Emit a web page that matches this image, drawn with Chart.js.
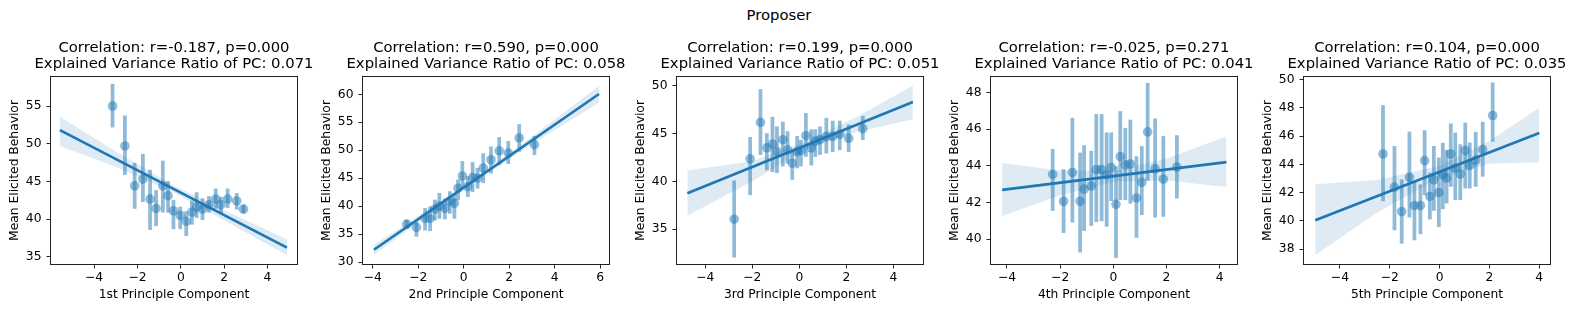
<!DOCTYPE html>
<html>
<head>
<meta charset="utf-8">
<script src="https://cdn.jsdelivr.net/npm/chart.js@4.4.1/dist/chart.umd.min.js"></script>
<style>
  body { margin: 0; background: #fff; width: 1577px; height: 311px; position: relative; overflow: hidden; font-family: "DejaVu Sans", sans-serif; }
  #suptitle { position: absolute; left: 0; width: 1558px; top: 7px; line-height: 16px; text-align: center; font-size: 14.8px; color: #000; }
  canvas { position: absolute; top: 0; }
</style>
</head>
<body>
<div id="suptitle">Proposer</div>
<canvas id="c0" width="346" height="311"></canvas>
<canvas id="c1" width="346" height="311"></canvas>
<canvas id="c2" width="346" height="311"></canvas>
<canvas id="c3" width="346" height="311"></canvas>
<canvas id="c4" width="346" height="311"></canvas>
<script>
// binned means with their CI, regression fit and its CI band

// 1st PC
const pc1X  = [-3.15, -2.58, -2.13, -1.75, -1.42, -1.14, -0.83, -0.59, -0.34, -0.03, 0.25, 0.51, 0.73, 1.00, 1.30, 1.61, 1.85, 2.16, 2.58, 2.89];
const pc1Y  = [55.0, 49.7, 44.4, 45.3, 42.65, 41.4, 44.4, 43.1, 41.1, 40.5, 39.7, 40.9, 41.6, 41.3, 41.9, 42.65, 41.9, 42.65, 42.4, 41.3];
const pc1Lo = [52.2, 45.9, 41.4, 42.3, 38.6, 39.1, 40.9, 40.9, 38.7, 38.7, 37.8, 39.3, 40.2, 39.9, 40.9, 41.4, 40.8, 41.5, 41.3, 40.8];
const pc1Hi = [57.9, 53.7, 47.4, 48.6, 46.5, 43.8, 47.7, 45.0, 42.5, 41.6, 41.0, 42.4, 43.5, 42.7, 43.0, 44.0, 42.9, 44.0, 43.4, 41.9];
const pc1FitX = [-5.58, 4.90];
const pc1FitY = [51.8, 36.2];
const pc1BandX  = [-5.58, -3, -0.3, 2.5, 4.9];
const pc1BandLo = [49.7, 46.95, 43.5, 39.0, 35.2];
const pc1BandHi = [53.6, 48.95, 44.4, 40.5, 37.3];

// 2nd PC
const pc2X  = [-2.51, -2.08, -1.70, -1.48, -1.27, -1.07, -0.83, -0.61, -0.41, -0.25, -0.06, 0.18, 0.39, 0.61, 0.86, 1.20, 1.56, 1.96, 2.44, 3.11];
const pc2Y  = [36.8, 36.2, 37.8, 37.8, 39.45, 40.0, 39.6, 40.9, 40.5, 43.2, 45.4, 43.5, 45.1, 45.0, 46.8, 48.3, 49.9, 49.5, 52.2, 51.0];
const pc2Lo = [36.0, 34.6, 35.7, 35.6, 37.5, 37.8, 37.7, 38.7, 37.8, 41.1, 43.1, 41.7, 42.6, 43.2, 44.2, 45.9, 47.4, 47.6, 49.8, 49.2];
const pc2Hi = [37.5, 37.2, 39.6, 39.9, 41.1, 42.3, 41.3, 42.6, 42.3, 44.7, 48.0, 45.3, 47.8, 46.8, 49.4, 50.6, 52.3, 51.6, 54.6, 52.5];
const pc2FitX = [-3.95, 5.95];
const pc2FitY = [32.2, 60.06];
const pc2BandX  = [-3.95, -1.5, 0.1, 3, 5.95];
const pc2BandLo = [31.3, 38.6, 43.3, 51.1, 58.5];
const pc2BandHi = [33.1, 39.6, 43.9, 52.4, 61.5];

// 3rd PC
const pc3X  = [-2.77, -2.09, -1.65, -1.38, -1.14, -0.95, -0.70, -0.50, -0.30, -0.09, 0.07, 0.28, 0.51, 0.68, 0.88, 1.15, 1.42, 1.72, 2.10, 2.70];
const pc3Y  = [36.05, 42.36, 46.16, 43.5, 43.9, 43.1, 44.35, 43.3, 41.9, 43.1, 43.2, 44.77, 43.5, 44.2, 44.35, 44.7, 44.7, 44.9, 44.5, 45.5];
const pc3Lo = [32.07, 38.6, 42.8, 41.2, 41.0, 40.9, 41.6, 41.9, 40.2, 41.4, 41.6, 42.6, 41.7, 42.6, 42.8, 42.95, 43.1, 43.3, 43.1, 44.35];
const pc3Hi = [40.06, 44.6, 49.6, 45.0, 46.7, 45.7, 46.2, 45.2, 43.1, 44.7, 44.3, 47.1, 45.4, 45.4, 45.7, 46.6, 46.3, 46.3, 45.9, 46.8];
const pc3FitX = [-4.76, 4.83];
const pc3FitY = [38.77, 48.29];
const pc3BandX  = [-4.76, -2, 0.3, 2.5, 4.83];
const pc3BandLo = [36.4, 40.0, 43.4, 45.2, 46.5];
const pc3BandHi = [41.14, 42.1, 44.2, 46.8, 50.0];

// 4th PC
const pc4X  = [-2.28, -1.87, -1.54, -1.25, -1.10, -0.83, -0.64, -0.44, -0.25, -0.08, 0.10, 0.26, 0.45, 0.64, 0.87, 1.07, 1.29, 1.57, 1.88, 2.39];
const pc4Y  = [43.53, 42.07, 43.64, 42.07, 42.73, 42.9, 43.8, 43.8, 43.5, 43.9, 41.9, 44.5, 44.05, 44.1, 42.25, 43.1, 45.85, 43.84, 43.27, 43.93];
const pc4Lo = [41.56, 40.36, 40.93, 39.3, 40.47, 40.75, 40.96, 41.0, 40.7, 42.1, 39.0, 42.15, 42.15, 41.96, 40.1, 41.33, 43.2, 41.2, 41.24, 42.24];
const pc4Hi = [44.9, 43.8, 46.6, 44.7, 45.1, 44.8, 46.8, 46.8, 45.8, 45.8, 43.96, 46.96, 46.05, 46.5, 44.5, 45.05, 48.5, 46.56, 45.6, 45.65];
const pc4FitX = [-4.18, 4.25];
const pc4FitY = [42.69, 44.2];
const pc4BandX  = [-4.18, -2, 0.1, 2, 4.25];
const pc4BandLo = [41.27, 42.4, 43.15, 43.2, 42.84];
const pc4BandHi = [44.15, 43.75, 43.75, 44.4, 45.6];

// 5th PC
const pc5X  = [-2.27, -1.81, -1.52, -1.21, -1.01, -0.77, -0.60, -0.39, -0.23, -0.03, 0.13, 0.28, 0.45, 0.63, 0.83, 1.03, 1.21, 1.45, 1.73, 2.13];
const pc5Y  = [44.73, 42.39, 40.67, 43.08, 41.09, 41.09, 44.26, 41.73, 42.91, 42.01, 43.27, 43.03, 44.73, 43.74, 43.31, 44.97, 43.93, 44.28, 45.04, 47.45];
const pc5Lo = [41.42, 39.37, 38.42, 40.27, 38.66, 39.09, 41.85, 40.13, 40.74, 39.6, 40.86, 41.26, 42.44, 41.5, 41.5, 42.32, 42.32, 42.44, 43.15, 45.63];
const pc5Hi = [48.16, 45.27, 42.91, 46.29, 42.8, 42.56, 46.39, 43.39, 45.27, 44.45, 45.5, 45.0, 46.86, 46.22, 45.39, 46.93, 45.51, 46.27, 46.98, 49.76];
const pc5FitX = [-4.99, 4.0];
const pc5FitY = [40.05, 46.22];
const pc5BandX  = [-4.99, -2.5, 0, 2, 4.0];
const pc5BandLo = [37.6, 40.6, 43.05, 44.05, 44.14];
const pc5BandHi = [42.6, 42.9, 43.9, 45.65, 48.0];

// axes
const xLimits = [[-5.99, 5.36], [-4.43, 6.39], [-5.2, 5.26], [-4.6, 4.65], [-5.44, 4.43]];
const yLimits = [[34.03, 58.85], [29.65, 63.1], [31.37, 50.9], [38.65, 48.84], [36.96, 50.17]];
const xTicks = [[-4, -2, 0, 2, 4], [-4, -2, 0, 2, 4, 6], [-4, -2, 0, 2, 4], [-4, -2, 0, 2, 4], [-4, -2, 0, 2, 4]];
const yTicks = [[35, 40, 45, 50, 55], [30, 35, 40, 45, 50, 55, 60], [35, 40, 45, 50], [40, 42, 44, 46, 48], [38, 40, 42, 44, 46, 48, 50]];
const xLabels = ['1st Principle Component', '2nd Principle Component', '3rd Principle Component', '4th Principle Component', '5th Principle Component'];
const titles = [
    ['Correlation: r=-0.187, p=0.000', 'Explained Variance Ratio of PC: 0.071'],
    ['Correlation: r=0.590, p=0.000', 'Explained Variance Ratio of PC: 0.058'],
    ['Correlation: r=0.199, p=0.000', 'Explained Variance Ratio of PC: 0.051'],
    ['Correlation: r=-0.025, p=0.271', 'Explained Variance Ratio of PC: 0.041'],
    ['Correlation: r=0.104, p=0.000', 'Explained Variance Ratio of PC: 0.035']
];

const panels = [
    [pc1X, pc1Y, pc1Lo, pc1Hi, pc1FitX, pc1FitY, pc1BandX, pc1BandLo, pc1BandHi],
    [pc2X, pc2Y, pc2Lo, pc2Hi, pc2FitX, pc2FitY, pc2BandX, pc2BandLo, pc2BandHi],
    [pc3X, pc3Y, pc3Lo, pc3Hi, pc3FitX, pc3FitY, pc3BandX, pc3BandLo, pc3BandHi],
    [pc4X, pc4Y, pc4Lo, pc4Hi, pc4FitX, pc4FitY, pc4BandX, pc4BandLo, pc4BandHi],
    [pc5X, pc5Y, pc5Lo, pc5Hi, pc5FitX, pc5FitY, pc5BandX, pc5BandLo, pc5BandHi]
];

const plotLefts = [51, 363, 677, 991, 1304];
const BLUE = '#1f77b4';
const FONT = 'DejaVu Sans';

Chart.defaults.color = '#000';
Chart.defaults.font.family = FONT;

// axes frame (all four spines)
const frame = {
    id: 'frame',
    afterDraw(chart) {
        const a = chart.chartArea, ctx = chart.ctx;
        ctx.save();
        ctx.strokeStyle = '#222';
        ctx.lineWidth = 1;
        ctx.strokeRect(a.left - 0.5, a.top - 0.5, a.right - a.left + 1, a.bottom - a.top + 1);
        ctx.restore();
    }
};

const minus = v => String(v).replace('-', '\u2212');
const zip = (xs, ys) => xs.map((x, i) => ({x, y: ys[i]}));

function makePanel(i) {
    const [xs, ys, lo, hi, fx, fy, bx, blo, bhi] = panels[i];
    const canvas = document.getElementById('c' + i);
    canvas.style.left = (plotLefts[i] - 50) + 'px';

    const tickGrid = {display: true, offset: false, drawOnChartArea: false, drawTicks: true, tickLength: 4.5, tickColor: '#222', tickWidth: 1};
    const tickFont = {family: FONT, size: 12.3};

    new Chart(canvas, {
        type: 'scatter',
        data: {
            datasets: [
                {type: 'line', data: zip(fx, fy), borderColor: BLUE, borderWidth: 2.7, pointRadius: 0, order: 0},
                {type: 'line', data: zip(bx, blo), borderWidth: 0, pointRadius: 0, fill: false, order: 1},
                {type: 'line', data: zip(bx, bhi), borderWidth: 0, pointRadius: 0, fill: '-1', backgroundColor: 'rgba(31,119,180,0.15)', order: 1},
                {type: 'scatter', data: zip(xs, ys), backgroundColor: 'rgba(31,119,180,0.5)', borderWidth: 0, pointRadius: 4.8, order: 2},
                {type: 'bar', data: xs.map((x, k) => ({x, y: [lo[k], hi[k]]})), backgroundColor: 'rgba(31,119,180,0.5)', borderWidth: 0, barThickness: 3.1, order: 3}
            ]
        },
        options: {
            responsive: false,
            animation: false,
            layout: {padding: 0},
            plugins: {
                legend: {display: false},
                tooltip: {enabled: false},
                title: {
                    display: true, text: titles[i], color: '#000',
                    font: {family: FONT, size: 14.8, weight: 'normal', lineHeight: '15.7px'},
                    padding: {top: 40.15, bottom: 5.45}
                }
            },
            scales: {
                x: {
                    type: 'linear', offset: false, min: xLimits[i][0], max: xLimits[i][1],
                    afterBuildTicks: ax => { ax.ticks = xTicks[i].map(v => ({value: v})); },
                    afterFit: ax => { ax.height = 47; },
                    grid: tickGrid, border: {display: false},
                    ticks: {font: tickFont, padding: 2, autoSkip: false, maxRotation: 0, callback: minus},
                    title: {display: true, text: xLabels[i], font: {family: FONT, size: 12.3, lineHeight: 1.2}, padding: {top: 0, bottom: 8.6}}
                },
                y: {
                    type: 'linear', min: yLimits[i][0], max: yLimits[i][1],
                    afterBuildTicks: ax => { ax.ticks = yTicks[i].map(v => ({value: v})); },
                    afterFit: ax => { ax.width = 50; },
                    grid: tickGrid, border: {display: false},
                    ticks: {font: tickFont, padding: 5, autoSkip: false, callback: minus},
                    title: {display: true, text: 'Mean Elicited Behavior', font: {family: FONT, size: 12.3, lineHeight: 1.2}, padding: {top: 6.6, bottom: 0}}
                },
                // empty right-hand margin so the title centres over the axes
                yPad: {
                    type: 'linear', position: 'right', display: true, min: 0, max: 1,
                    afterFit: ax => { ax.width = 50; },
                    grid: {display: false}, border: {display: false}, ticks: {display: false}
                }
            }
        },
        plugins: [frame]
    });
}

for (let i = 0; i < 5; i++) makePanel(i);
</script>
</body>
</html>
